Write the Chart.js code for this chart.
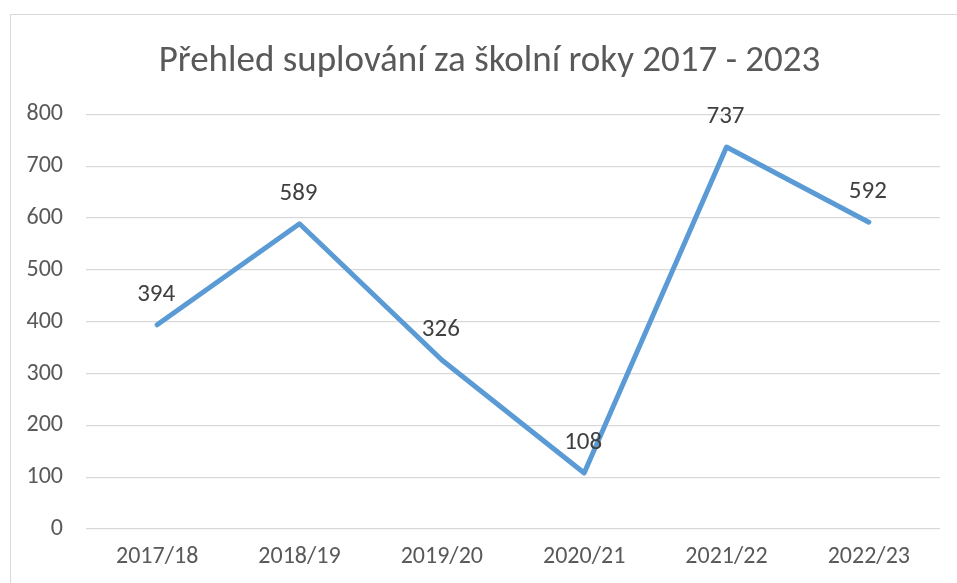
<!DOCTYPE html>
<html>
<head>
<meta charset="utf-8">
<script src="https://cdn.jsdelivr.net/npm/chart.js@4"></script>
<style>
  html, body { margin: 0; padding: 0; background: #ffffff; overflow: hidden; }
  #frame { position: absolute; left: 10px; top: 14px; width: 1200px; height: 800px; border: 1px solid #d9d9d9; box-sizing: border-box; }
  #wrap { position: absolute; left: 0; top: 0; width: 957px; height: 583px; }
</style>
</head>
<body>
<div id="frame"></div>
<div id="wrap"><canvas id="c" width="957" height="583"></canvas></div>
<script>
const categories = ["2017/18", "2018/19", "2019/20", "2020/21", "2021/22", "2022/23"];
const values = [394, 589, 326, 108, 737, 592];
const yTicks = [0, 100, 200, 300, 400, 500, 600, 700, 800];
const chartTitle = "Přehled suplování za školní roky 2017 - 2023";

const FONT = "Carlito, Calibri, Lato, sans-serif";

const dataLabels = {
  id: 'dataLabels',
  afterDatasetsDraw(chart) {
    const ctx = chart.ctx;
    const meta = chart.getDatasetMeta(0);
    ctx.save();
    ctx.font = "25px " + FONT;
    ctx.fillStyle = "#404040";
    ctx.textAlign = "center";
    ctx.textBaseline = "middle";
    meta.data.forEach((pt, i) => {
      ctx.fillText(String(values[i]), pt.x - 1, pt.y - 30);
    });
    ctx.restore();
  }
};

// centre the title over the whole chart frame (like Excel) rather than the canvas
const titleShift = {
  id: 'titleShift',
  afterLayout(chart) {
    const t = chart.titleBlock;
    if (t) { t.left = 39; t.right = chart.chartArea.right; t.width = t.right - t.left; }
  }
};

new Chart(document.getElementById('c'), {
  type: 'line',
  data: {
    labels: categories,
    datasets: [{
      data: values,
      borderColor: '#5b9bd5',
      borderWidth: 5,
      pointRadius: 0,
      pointHoverRadius: 0,
      tension: 0,
      borderCapStyle: 'round',
      borderJoinStyle: 'round',
      fill: false
    }]
  },
  options: {
    responsive: false,
    animation: false,
    events: [],
    layout: { padding: { left: 0, right: 17, top: 0, bottom: 0 } },
    plugins: {
      legend: { display: false },
      tooltip: { enabled: false },
      title: {
        display: true,
        text: chartTitle,
        color: '#595959',
        font: { family: FONT, size: 37, weight: 'normal' },
        padding: { top: 40, bottom: 30 }
      }
    },
    scales: {
      x: {
        offset: true,
        grid: { display: false, drawTicks: false },
        border: { display: false },
        ticks: { color: '#595959', font: { family: FONT, size: 24 }, padding: 14, maxRotation: 0 },
        afterFit(scale) { scale.height = 54; }
      },
      y: {
        min: 0,
        max: 800,
        afterBuildTicks(scale) { scale.ticks = yTicks.map(v => ({ value: v })); },
        grid: { color: '#d9d9d9', lineWidth: 1.3, drawTicks: false },
        border: { display: false },
        ticks: { color: '#595959', font: { family: FONT, size: 24 }, padding: 23 },
        afterFit(scale) { scale.width = 86; }
      }
    }
  },
  plugins: [dataLabels, titleShift]
});
</script>
</body>
</html>
